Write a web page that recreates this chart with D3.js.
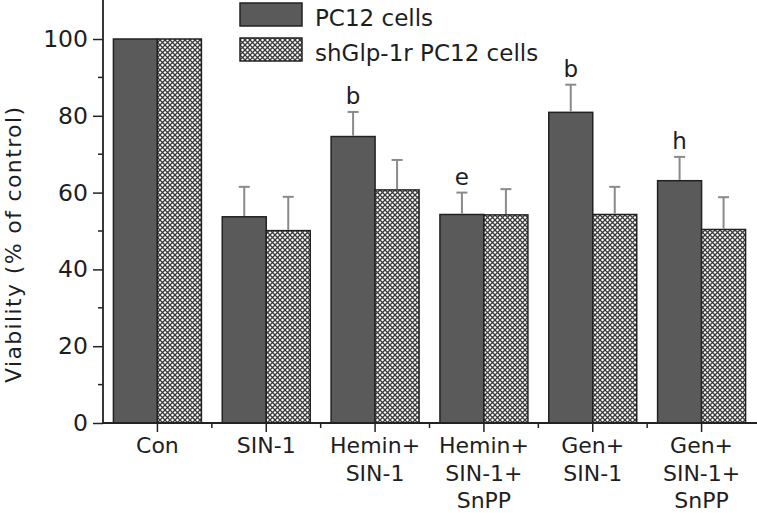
<!DOCTYPE html>
<html>
<head>
<meta charset="utf-8">
<script src="https://cdn.jsdelivr.net/npm/d3@7"></script>
<style>
  html, body { margin: 0; padding: 0; background: #fff; }
  svg { display: block; }
  text { font-family: "DejaVu Sans", sans-serif; fill: #1e1e1e; }
</style>
</head>
<body>
<svg id="chart" width="757" height="513"></svg>
<script>
// ---- data ----
const categories = [
  ["Con"],
  ["SIN-1"],
  ["Hemin+", "SIN-1"],
  ["Hemin+", "SIN-1+", "SnPP"],
  ["Gen+", "SIN-1"],
  ["Gen+", "SIN-1+", "SnPP"]
];
const seriesNames = ["PC12 cells", "shGlp-1r PC12 cells"];
const pc12Values = [100, 53.7, 74.6, 54.3, 80.9, 63.1];
const pc12Errors = [0, 7.8, 6.4, 5.7, 7.2, 6.2];
const shValues = [100, 50.1, 60.7, 54.2, 54.3, 50.4];
const shErrors = [0, 8.8, 7.8, 6.7, 7.2, 8.4];
const pc12Letters = ["", "", "b", "e", "b", "h"];
const yMajorTicks = [0, 20, 40, 60, 80, 100];
const yMinorTicks = [10, 30, 50, 70, 90];
const yLabel = "Viability (% of control)";

// ---- layout ----
const svg = d3.select("#chart");
const plotLeft = 103, plotRight = 756, plotTop = 0.6, plotBottom = 423;
const keys = categories.map((c, i) => "g" + i);

const x = d3.scaleBand().domain(keys).range([plotLeft, plotRight]).padding(0);
const x1 = d3.scaleBand().domain([0, 1]).range([0, x.bandwidth()])
  .paddingInner(0).paddingOuter(0.237);
const y = d3.scaleLinear().domain([0, 110]).range([plotBottom, plotTop]);

// hatch pattern
const defs = svg.append("defs");
const pat = defs.append("pattern").attr("id", "hatch")
  .attr("patternUnits", "userSpaceOnUse").attr("width", 5).attr("height", 5);
pat.append("rect").attr("width", 5).attr("height", 5).attr("fill", "#fff");
pat.append("path").attr("d", "M-1,-1 L6,6 M6,-1 L-1,6")
  .attr("stroke", "#3a3a3a").attr("stroke-width", 1.3);

const fills = ["#5a5a5a", "url(#hatch)"];

// data rows
const rows = keys.map((k, i) => [
  { k, i, s: 0, v: pc12Values[i], e: pc12Errors[i], lab: pc12Letters[i] },
  { k, i, s: 1, v: shValues[i], e: shErrors[i], lab: "" }
]).flat();

// bars
svg.append("g").selectAll("rect").data(rows).join("rect")
  .attr("x", d => x(d.k) + x1(d.s))
  .attr("y", d => y(d.v))
  .attr("width", x1.bandwidth())
  .attr("height", d => y(0) - y(d.v))
  .attr("fill", d => fills[d.s])
  .attr("stroke", "#222")
  .attr("stroke-width", 1.5);

// error bars
const eb = svg.append("g").attr("stroke", "#8a8a8a").attr("stroke-width", 2)
  .selectAll("g").data(rows.filter(d => d.e > 0)).join("g");
eb.append("line")
  .attr("x1", d => x(d.k) + x1(d.s) + x1.bandwidth() / 2)
  .attr("x2", d => x(d.k) + x1(d.s) + x1.bandwidth() / 2)
  .attr("y1", d => y(d.v) - 0.8)
  .attr("y2", d => y(d.v + d.e));
eb.append("line")
  .attr("x1", d => x(d.k) + x1(d.s) + x1.bandwidth() / 2 - 5.5)
  .attr("x2", d => x(d.k) + x1(d.s) + x1.bandwidth() / 2 + 5.5)
  .attr("y1", d => y(d.v + d.e))
  .attr("y2", d => y(d.v + d.e));

// significance letters
svg.append("g").selectAll("text").data(rows.filter(d => d.lab)).join("text")
  .attr("x", d => x(d.k) + x1(d.s) + x1.bandwidth() / 2)
  .attr("y", d => y(d.v + d.e) - 8)
  .attr("text-anchor", "middle")
  .attr("font-size", 23)
  .text(d => d.lab);

// y axis
const yAxisG = svg.append("g").attr("transform", `translate(${plotLeft},0)`);
yAxisG.call(d3.axisLeft(y).tickValues(yMajorTicks).tickSize(10).tickPadding(5).tickFormat(d3.format("d")))
  .call(g => g.select(".domain").remove());
yAxisG.selectAll(".tick line").attr("stroke", "#222").attr("stroke-width", 1.5);
yAxisG.selectAll(".tick text").attr("font-size", 23.5).attr("font-family", "DejaVu Sans").attr("fill", "#1e1e1e");
yAxisG.selectAll(".minor").data(yMinorTicks).join("line")
  .attr("class", "minor")
  .attr("x1", -5).attr("x2", 0)
  .attr("y1", d => y(d)).attr("y2", d => y(d))
  .attr("stroke", "#222").attr("stroke-width", 1.5);
svg.append("line").attr("x1", plotLeft).attr("x2", plotLeft).attr("y1", 0).attr("y2", plotBottom + 0.75)
  .attr("stroke", "#222").attr("stroke-width", 1.8);

// x axis
const xAxisG = svg.append("g").attr("transform", `translate(0,${plotBottom})`);
xAxisG.call(d3.axisBottom(x).tickSize(9).tickFormat(""))
  .call(g => g.select(".domain").remove());
xAxisG.selectAll(".tick line").attr("stroke", "#222").attr("stroke-width", 1.5);
xAxisG.selectAll(".minor").data(keys.slice(1)).join("line")
  .attr("class", "minor")
  .attr("x1", d => x(d)).attr("x2", d => x(d))
  .attr("y1", 0).attr("y2", 5)
  .attr("stroke", "#222").attr("stroke-width", 1.5);
svg.append("line").attr("x1", plotLeft - 0.9).attr("x2", 757).attr("y1", plotBottom).attr("y2", plotBottom)
  .attr("stroke", "#222").attr("stroke-width", 1.8);

// x labels (multi-line)
const xl = svg.append("g").selectAll("text").data(keys).join("text")
  .attr("text-anchor", "middle")
  .attr("font-size", 22);
xl.each(function(k, i) {
  d3.select(this).selectAll("tspan").data(categories[i]).join("tspan")
    .attr("x", x(k) + x.bandwidth() / 2)
    .attr("y", (d, j) => 453 + j * 27.5)
    .text(d => d);
});

// y label
svg.append("text")
  .attr("transform", "translate(21,245) rotate(-90)")
  .attr("text-anchor", "middle")
  .attr("font-size", 22)
  .attr("textLength", 276)
  .attr("lengthAdjust", "spacing")
  .text(yLabel);

// legend
const leg = svg.append("g");
const legY = [3, 38];
seriesNames.forEach((name, i) => {
  leg.append("rect").attr("x", 240).attr("y", legY[i]).attr("width", 62).attr("height", 23)
    .attr("fill", fills[i]).attr("stroke", "#222").attr("stroke-width", 1.5);
  leg.append("text").attr("x", 315).attr("y", legY[i] + 22.5).attr("font-size", 23).text(name);
});
</script>
</body>
</html>
